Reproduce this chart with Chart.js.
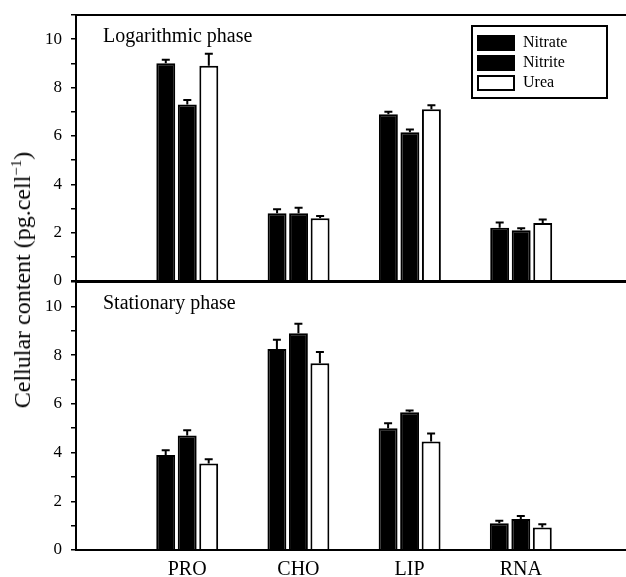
<!DOCTYPE html>
<html>
<head>
<meta charset="utf-8">
<script src="https://cdn.jsdelivr.net/npm/chart.js@4.4.1/dist/chart.umd.min.js"></script>
<style>
  html, body { margin: 0; padding: 0; background: #fff; overflow: hidden; }
  #wrap { position: relative; width: 626px; height: 577px; overflow: hidden; }
  .panel { position: absolute; left: 0; }
  #topPanel { top: 0; }
  #bottomPanel { top: 270px; }
  #ytitle {
    position: absolute; left: 22px; top: 280px;
    transform: translate(-50%, -50%) rotate(-90deg);
    font: 24px "Liberation Serif", serif; white-space: nowrap; color: #000;
  }
  #ytitle sup { font-size: 15px; }
</style>
</head>
<body>
<div id="wrap">
  <canvas id="topPanel" class="panel" width="640" height="300"></canvas>
  <canvas id="bottomPanel" class="panel" width="640" height="307"></canvas>
  <div id="ytitle">Cellular content (pg.cell<sup>−1</sup>)</div>
</div>
<script>
const categories = ['PRO', 'CHO', 'LIP', 'RNA'];
const seriesNames = ['Nitrate', 'Nitrite', 'Urea'];
const seriesFill = ['#000', '#000', '#fff'];
const yTickLabels = [0, 2, 4, 6, 8, 10];

// logarithmic phase
const logNitrate = [9.0, 2.8, 6.9, 2.2];
const logNitrite = [7.3, 2.8, 6.15, 2.1];
const logUrea = [8.9, 2.6, 7.1, 2.4];
const logNitrateErr = [0.15, 0.17, 0.1, 0.22];
const logNitriteErr = [0.18, 0.23, 0.12, 0.08];
const logUreaErr = [0.5, 0.09, 0.17, 0.14];

// stationary phase
const statNitrate = [3.9, 8.25, 5.0, 1.1];
const statNitrite = [4.7, 8.9, 5.65, 1.27];
const statUrea = [3.55, 7.67, 4.45, 0.92];
const statNitrateErr = [0.19, 0.38, 0.2, 0.1];
const statNitriteErr = [0.21, 0.39, 0.08, 0.13];
const statUreaErr = [0.17, 0.46, 0.33, 0.14];

const serif = '"Liberation Serif", "Times New Roman", serif';

// empty slot on each side so the groups sit where the original has them
function pad(arr) {
    return [null].concat(arr, [null]);
}

const errorBars = {
    id: 'errorBars',
    afterDatasetsDraw(chart) {
        const ctx = chart.ctx;
        const y = chart.scales.y;
        ctx.save();
        ctx.strokeStyle = '#000';
        ctx.lineWidth = 2;
        chart.data.datasets.forEach((ds, i) => {
            chart.getDatasetMeta(i).data.forEach((bar, j) => {
                const v = ds.data[j];
                if (v == null) return;
                const yErr = y.getPixelForValue(v + ds.errors[j]);
                ctx.beginPath();
                ctx.moveTo(bar.x, bar.y);
                ctx.lineTo(bar.x, yErr);
                ctx.moveTo(bar.x - 4, yErr);
                ctx.lineTo(bar.x + 4, yErr);
                ctx.stroke();
            });
        });
        ctx.restore();
    }
};

const frame = {
    id: 'frame',
    afterDraw(chart, args, opts) {
        const ctx = chart.ctx;
        const a = chart.chartArea;
        ctx.save();
        ctx.strokeStyle = '#000';
        ctx.lineWidth = 2;
        ctx.strokeRect(a.left, a.top, a.right - a.left, a.bottom - a.top);
        ctx.fillStyle = '#000';
        ctx.font = '20px ' + serif;
        ctx.textBaseline = 'alphabetic';
        ctx.fillText(opts.text, a.left + 27, a.top + 27);

        if (opts.legend) {
            const bx = a.left + 396, by = a.top + 11;
            ctx.strokeRect(bx, by, 135, 72);
            ctx.font = '16px ' + serif;
            ctx.textBaseline = 'middle';
            chart.data.datasets.forEach((ds, i) => {
                const cy = by + 17 + i * 20;
                ctx.fillStyle = ds.backgroundColor;
                ctx.fillRect(bx + 6, cy - 7, 36, 14);
                ctx.strokeRect(bx + 6, cy - 7, 36, 14);
                ctx.fillStyle = '#000';
                ctx.fillText(ds.label, bx + 51, cy);
            });
        }
        ctx.restore();
    }
};

function makePanel(id, series, errors, text, isBottom) {
    const datasets = series.map((vals, i) => ({
        label: seriesNames[i],
        data: pad(vals),
        errors: pad(errors[i]),
        backgroundColor: seriesFill[i],
        borderColor: '#000',
        borderWidth: 2,
        categoryPercentage: 0.58,
        barPercentage: 0.88
    }));

    return new Chart(document.getElementById(id), {
        type: 'bar',
        data: { labels: pad(categories).map(c => c || ''), datasets: datasets },
        options: {
            responsive: false,
            animation: false,
            layout: {
                padding: isBottom
                    ? { top: 12, right: 7.5, bottom: 0, left: 0 }
                    : { top: 15, right: 7.5, bottom: 19, left: 0 }
            },
            plugins: {
                legend: { display: false },
                tooltip: { enabled: false },
                frame: { text: text, legend: !isBottom }
            },
            scales: {
                x: {
                    display: isBottom,
                    offset: false,
                    grid: { display: false, drawTicks: false },
                    border: { display: false },
                    ticks: { color: '#000', font: { family: serif, size: 20 }, padding: 8, autoSkip: false, maxRotation: 0 },
                    afterFit(scale) {
                        if (isBottom) scale.height = 27;
                    }
                },
                y: {
                    min: 0,
                    max: 11,
                    grid: { drawOnChartArea: false, drawTicks: true, tickLength: 5, color: '#000', lineWidth: 1.5 },
                    border: { display: false },
                    ticks: {
                        stepSize: 1,
                        color: '#000',
                        padding: 9,
                        font: { family: serif, size: 17 },
                        callback: v => yTickLabels.includes(v) ? v : ''
                    },
                    afterFit(scale) {
                        scale.width = 76;
                        scale.paddingTop = 0;
                        scale.paddingBottom = 0;
                    }
                }
            }
        },
        plugins: [errorBars, frame]
    });
}

makePanel('topPanel',
    [logNitrate, logNitrite, logUrea],
    [logNitrateErr, logNitriteErr, logUreaErr],
    'Logarithmic phase', false);

makePanel('bottomPanel',
    [statNitrate, statNitrite, statUrea],
    [statNitrateErr, statNitriteErr, statUreaErr],
    'Stationary phase', true);
</script>
</body>
</html>
